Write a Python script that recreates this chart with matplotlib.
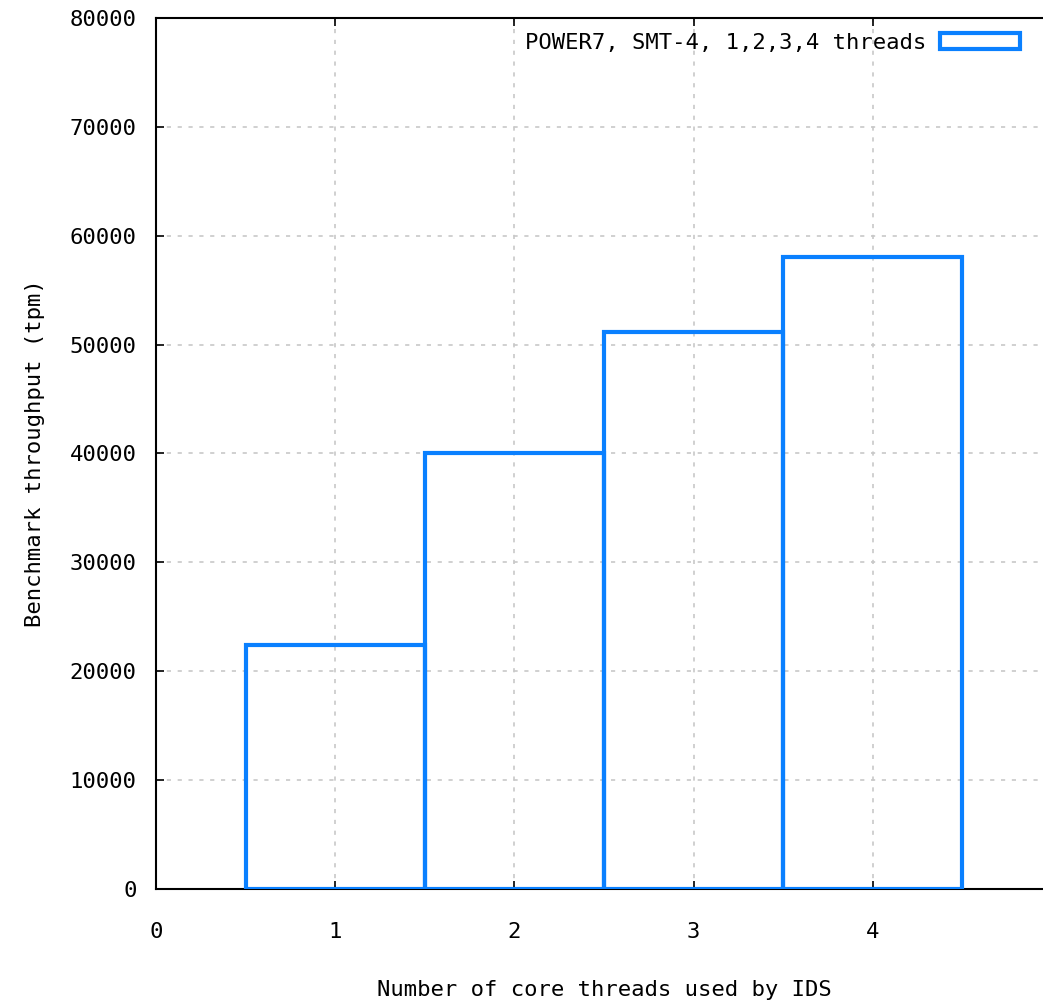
import matplotlib
matplotlib.use("Agg")
import matplotlib.pyplot as plt
from matplotlib.patches import Patch

threads = [1, 2, 3, 4]
throughput = [22400, 40000, 51200, 58050]
series_label = "POWER7, SMT-4, 1,2,3,4 threads"
x_ticks = [0, 1, 2, 3, 4]
y_ticks = list(range(0, 80001, 10000))

plt.rcParams["font.family"] = ["DejaVu Sans Mono"]
blue = "#0a80ff"

fig = plt.figure(figsize=(10.43, 10.08), dpi=100)
W, H = 1043, 1008
# plot area runs off the right edge like the original
left, right, top, bottom = 156, 1052, 18, 889
ax = fig.add_axes([left / W, 1 - bottom / H, (right - left) / W, (bottom - top) / H])

ax.bar(threads, throughput, width=1.0, facecolor="none", edgecolor=blue,
       linewidth=3, zorder=3)

ax.set_xlim(0, 5)
ax.set_ylim(0, 80000)
ax.set_xticks(x_ticks)
ax.set_yticks(y_ticks)
ax.tick_params(direction="in", length=6, width=1.2, labelsize=16, top=True, right=True)
ax.tick_params(axis="x", pad=24)
ax.tick_params(axis="y", pad=14)
ax.grid(True, linestyle=(0, (2.5, 4)), color="#c8c8c8", linewidth=1.2)
for s in ax.spines.values():
    s.set_linewidth(1.5)

ax.set_xlabel("Number of core threads used by IDS", fontsize=16, labelpad=27)
ax.set_ylabel("Benchmark throughput (tpm)", fontsize=16, labelpad=18)

handle = Patch(facecolor="none", edgecolor=blue, linewidth=3)
fig.legend([handle], [series_label], loc="upper right",
           bbox_to_anchor=(1020 / W, 1 - 33 / H), frameon=False, markerfirst=False,
           fontsize=16, handlelength=3.6, handleheight=0.7, borderaxespad=0,
           borderpad=0, handletextpad=0.6)

fig.savefig("out.png", dpi=100)
